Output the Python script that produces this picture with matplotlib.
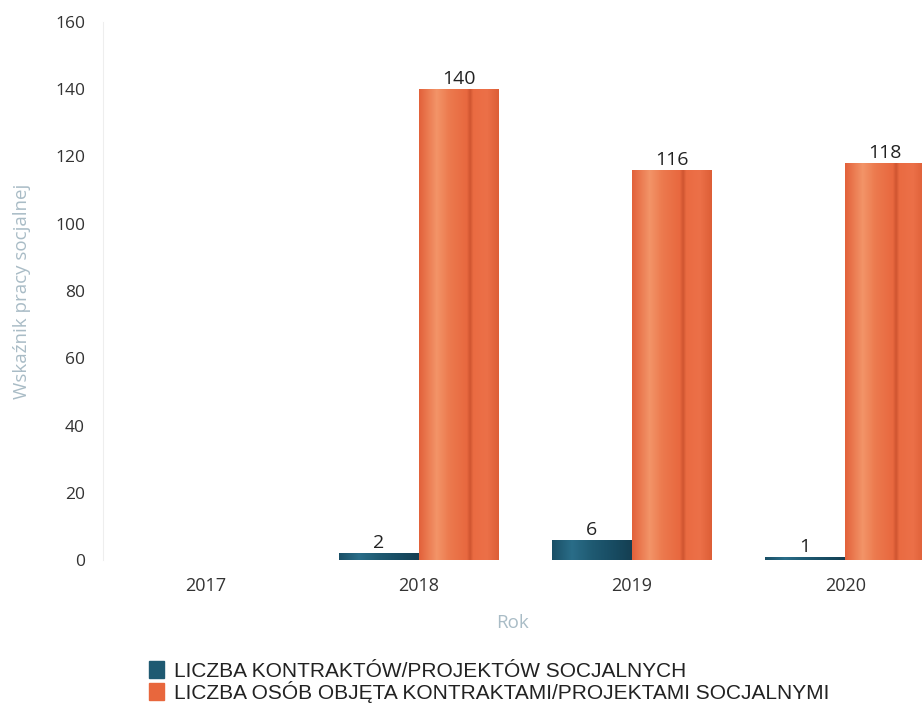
import numpy as np
import matplotlib
matplotlib.use("Agg")
import matplotlib.pyplot as plt
from matplotlib.colors import LinearSegmentedColormap

years = ["2017", "2018", "2019", "2020"]
contracts = [np.nan, 2, 6, 1]
persons = [np.nan, 140, 116, 118]
series_names = ["LICZBA KONTRAKTÓW/PROJEKTÓW SOCJALNYCH",
                "LICZBA OSÓB OBJĘTA KONTRAKTAMI/PROJEKTAMI SOCJALNYMI"]
y_ticks = [0, 20, 40, 60, 80, 100, 120, 140, 160]

blue = "#1f5a72"
orange = "#e8673d"

plt.rcParams['font.family'] = ['Open Sans', 'DejaVu Sans']

fig = plt.figure(figsize=(9.22, 7.09), dpi=100)
ax = fig.add_axes([103/922, 1-560/709, 1-103/922, (560-22)/709])

x = np.arange(len(years))
w = 0.375
b1 = ax.bar(x - w/2, contracts, w, color=blue, label=series_names[0], zorder=2)
b2 = ax.bar(x + w/2, persons, w, color=orange, label=series_names[1], zorder=2)

# cylinder-like shading
orange_cmap = LinearSegmentedColormap.from_list("o", [
    (0.0, "#e2613a"), (0.22, "#f39468"), (0.38, "#ec7a4e"), (0.6, "#e8683f"),
    (0.64, "#cf5530"), (0.68, "#ea6b42"), (0.85, "#ec7048"), (1.0, "#dd5e36")])
blue_cmap = LinearSegmentedColormap.from_list("b", [
    (0.0, "#1a4f66"), (0.25, "#2a6d88"), (0.5, "#1f5a72"), (0.8, "#174a60"), (1.0, "#153f52")])
grad = np.linspace(0, 1, 256).reshape(1, -1)
for bars, cmap in ((b1, blue_cmap), (b2, orange_cmap)):
    for p in bars:
        h = p.get_height()
        if not np.isfinite(h) or h == 0:
            continue
        x0, y0 = p.get_x(), p.get_y()
        im = ax.imshow(grad, cmap=cmap, aspect='auto',
                       extent=(x0, x0 + p.get_width(), y0, y0 + h), zorder=3)
        im.set_clip_path(p)

for bars in (b1, b2):
    for p in bars:
        h = p.get_height()
        if not np.isfinite(h):
            continue
        ax.text(p.get_x() + p.get_width()/2, h + 0.3, f"{h:g}", ha='center', va='bottom',
                fontsize=14, color="#222222", zorder=4)

ax.set_xlim(-0.48, 3.36)
ax.set_ylim(0, 160)
ax.set_xticks(x)
ax.set_xticklabels(years)
ax.set_yticks(y_ticks)
ax.tick_params(axis='both', length=0, labelsize=12.5, colors="#333333")
ax.tick_params(axis='x', pad=12, labelsize=13)
ax.tick_params(axis='y', pad=13)
for s in ("top", "right", "bottom"):
    ax.spines[s].set_visible(False)
ax.spines["left"].set_color("#eeeeee")
ax.set_ylabel("Wskaźnik pracy socjalnej", fontsize=13.5, color="#a9bcc6")
ax.yaxis.set_label_coords(-0.088, 0.5)
ax.set_xlabel("Rok", fontsize=13.5, color="#a9bcc6", labelpad=14)

handles = [plt.Rectangle((0, 0), 1, 1, color=blue), plt.Rectangle((0, 0), 1, 1, color=orange)]
fig.legend(handles, series_names, loc='upper left', bbox_to_anchor=(130/922, 1-642/709),
           frameon=False, handlelength=0.75, handleheight=0.9,
           handletextpad=0.45, labelspacing=0.0, labelcolor="#222222",
           prop={'family': ['Liberation Sans', 'DejaVu Sans'], 'size': 15})

fig.savefig("out.png", dpi=100, facecolor="white")
